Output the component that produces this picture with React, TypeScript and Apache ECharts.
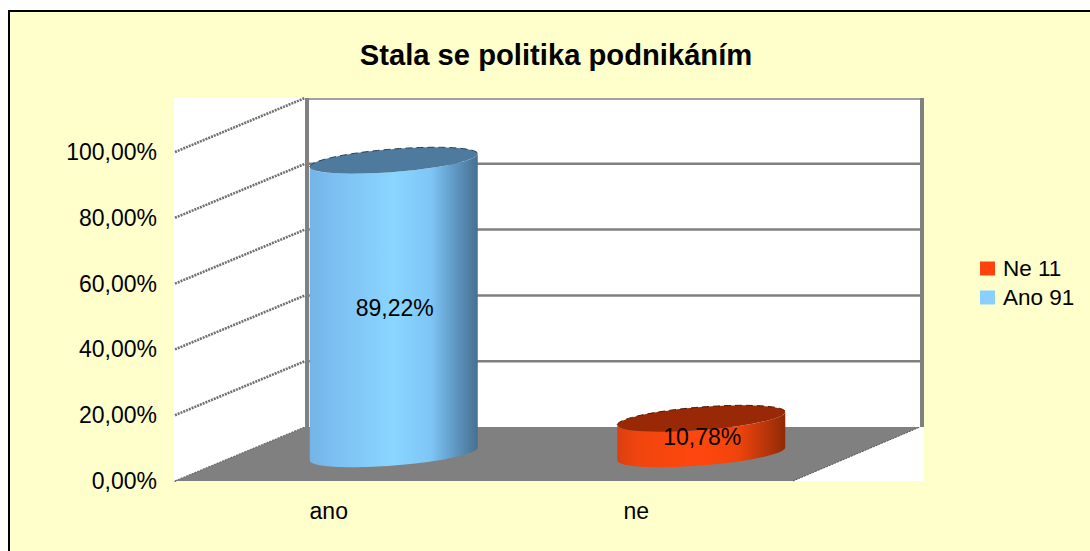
import React, { useEffect, useRef } from "react";
import * as echarts from "echarts";

const titleText = "Stala se politika podnikáním";
const categories = ["ano", "ne"];
const yTicks = [0, 20, 40, 60, 80, 100];
const anoValues = [89.22];
const neValues = [10.78];
const anoName = "Ano 91";
const neName = "Ne 11";

const FONT = "'Liberation Sans', Arial, sans-serif";
const DX = 130;
const DY = -54;
const GRAY = "#808080";

const fmt = (v: number) => v.toFixed(2).replace(".", ",") + "%";

function renderWalls(params: any, api: any) {
  const tick = api.value(1);
  const cs = params.coordSys;
  const x0 = cs.x;
  const x1 = cs.x + cs.width;
  const y = api.coord([0, tick])[1];
  const bottom = api.coord([0, 0])[1];
  const top = api.coord([0, yTicks[yTicks.length - 1]])[1];
  const children: any[] = [];
  if (tick === 0) {
    children.push({
      type: "rect",
      shape: { x: x0 - 1, y: top + DY, width: x1 + DX + 4 - x0 + 1, height: bottom - top - DY },
      style: { fill: "#fff" },
    });
    children.push({
      type: "polygon",
      shape: { points: [[x0, bottom], [x0 + DX, bottom + DY], [x1 + DX, bottom + DY], [x1 + 3, bottom]] },
      style: { fill: GRAY },
    });
    children.push({
      type: "line",
      shape: { x1: x0 + DX + 2, y1: top + DY, x2: x0 + DX + 2, y2: bottom + DY },
      style: { stroke: GRAY, lineWidth: 4 },
    });
    children.push({
      type: "line",
      shape: { x1: x1 + DX + 2, y1: top + DY, x2: x1 + DX + 2, y2: bottom + DY },
      style: { stroke: GRAY, lineWidth: 4 },
    });
    children.push({
      type: "line",
      shape: { x1: x1 + 3, y1: bottom, x2: x1 + DX, y2: bottom + DY },
      style: { stroke: "#555", lineWidth: 1, lineDash: [2, 1] },
    });
  } else {
    const lift = tick === 100 ? 1 : 0;
    children.push({
      type: "line",
      shape: { x1: x0 + DX, y1: y + DY + lift, x2: x1 + DX + 2, y2: y + DY + lift },
      style: { stroke: GRAY, lineWidth: tick === 100 ? 1.5 : 2.5 },
    });
  }
  children.push({
    type: "line",
    shape: { x1: x0, y1: y, x2: x0 + DX, y2: y + DY },
    style: { stroke: "#707070", lineWidth: tick === 0 ? 1.4 : 2.6, lineDash: [2, 1] },
  });
  return { type: "group", children };
}

function ellipsePts(cx: number, cy: number, from: number, to: number) {
  const a = 84;
  const skew = 6.5;
  const b = 11.5;
  const pts: number[][] = [];
  const n = 48;
  for (let i = 0; i <= n; i++) {
    const t = from + ((to - from) * i) / n;
    pts.push([cx + a * Math.cos(t), cy - skew * Math.cos(t) + b * Math.sin(t)]);
  }
  return pts;
}

function cylinder(stops: [number, string][], topColor: string, edge: string) {
  return (_params: any, api: any) => {
    const cat = api.value(0);
    const val = api.value(1);
    const p = api.coord([cat, val]);
    const base = api.coord([cat, 0]);
    const cx = p[0] + DX / 2;
    const topY = p[1] + DY / 2;
    const baseY = base[1] + DY / 2;
    const lower = ellipsePts(cx, baseY, Math.PI, 0);
    const body = [...lower, ...ellipsePts(cx, topY, 0, Math.PI)];
    return {
      type: "group",
      children: [
        {
          type: "polygon",
          shape: { points: body },
          style: {
            fill: new echarts.graphic.LinearGradient(
              0, 0, 1, 0,
              stops.map(([offset, color]) => ({ offset, color }))
            ),
          },
        },
        {
          type: "polygon",
          shape: { points: ellipsePts(cx, topY, 0, Math.PI * 2) },
          style: { fill: topColor },
        },
        {
          type: "polyline",
          shape: { points: ellipsePts(cx, topY, Math.PI, Math.PI * 2) },
          style: { fill: "none", stroke: edge, lineWidth: 1, lineDash: [7, 4] },
        },
        {
          type: "text",
          style: {
            x: cx + 1,
            y: (topY + baseY) / 2 + 1,
            text: fmt(val),
            align: "center",
            verticalAlign: "middle",
            fill: "#000",
            font: `23px ${FONT}`,
          },
        },
      ],
    };
  };
}

const blueStops: [number, string][] = [
  [0, "#74B4E6"],
  [0.15, "#7CBFF2"],
  [0.5, "#8AD6FF"],
  [0.72, "#7EC6F6"],
  [0.88, "#5C93BE"],
  [1, "#47708F"],
];
const redStops: [number, string][] = [
  [0, "#DB3F10"],
  [0.12, "#F0450F"],
  [0.5, "#FF470D"],
  [0.72, "#F0440C"],
  [0.88, "#B9360A"],
  [1, "#8F2A06"],
];

export default function App() {
  const ref = useRef<HTMLDivElement>(null);
  useEffect(() => {
    const chart = echarts.init(ref.current!, undefined, { renderer: "svg" });
    chart.setOption({
      animation: false,
      backgroundColor: "#fff",
      textStyle: { fontFamily: FONT },
      graphic: [
        {
          type: "rect",
          z: -10,
          shape: { x: 9, y: 11, width: 1100, height: 600 },
          style: { fill: "#FFFFCC", stroke: "#000", lineWidth: 2 },
        },
      ],
      title: {
        text: titleText,
        left: 551,
        top: 35,
        textAlign: "center",
        textStyle: { fontFamily: FONT, fontSize: 29.2, fontWeight: "bold", color: "#000" },
      },
      legend: {
        data: [neName, anoName],
        orient: "vertical",
        left: 975,
        top: 252,
        icon: "rect",
        itemWidth: 15,
        itemHeight: 14,
        itemGap: 6,
        textStyle: { fontFamily: FONT, fontSize: 22.5, color: "#000", padding: [0, 0, 0, 3] },
      },
      grid: { left: 175, top: 152, width: 615, height: 329, containLabel: false },
      xAxis: {
        type: "category",
        data: categories,
        axisLine: { show: false },
        axisTick: { show: false },
        axisLabel: { color: "#000", fontFamily: FONT, fontSize: 23, margin: 18 },
      },
      yAxis: {
        type: "value",
        min: 0,
        max: 100,
        interval: 20,
        axisLine: { show: true, lineStyle: { color: GRAY, width: 2 } },
        axisTick: { show: false },
        splitLine: { show: false },
        axisLabel: {
          color: "#000",
          fontFamily: FONT,
          fontSize: 23,
          margin: 18,
          padding: [2, 0, 0, 0],
          formatter: (v: number) => fmt(v),
        },
      },
      series: [
        {
          type: "custom",
          name: "walls",
          z: 1,
          clip: false,
          silent: true,
          renderItem: renderWalls,
          data: yTicks.map((t) => [0, t]),
          encode: { x: 0, y: 1 },
        },
        {
          type: "custom",
          name: anoName,
          z: 3,
          clip: false,
          itemStyle: { color: "#8AD0FF" },
          renderItem: cylinder(blueStops, "#4E7A9E", "#2A3F52"),
          data: anoValues.map((v) => [categories[0], v]),
          encode: { x: 0, y: 1 },
        },
        {
          type: "custom",
          name: neName,
          z: 3,
          clip: false,
          itemStyle: { color: "#FF420E" },
          renderItem: cylinder(redStops, "#992807", "#4A1503"),
          data: neValues.map((v) => [categories[1], v]),
          encode: { x: 0, y: 1 },
        },
      ],
    });
    return () => chart.dispose();
  }, []);
  return (
    <div
      ref={ref}
      style={{ position: "fixed", left: 0, top: 0, width: 1090, height: 551 }}
    />
  );
}
